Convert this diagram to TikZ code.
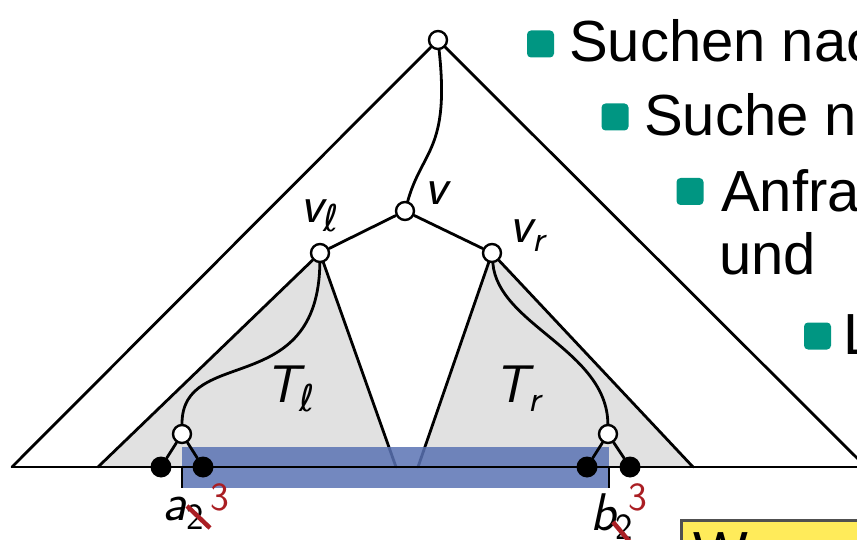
\documentclass[tikz,border=0pt]{standalone}
\usepackage{fontspec}
\newfontfamily\arialf{Liberation Sans}
\newfontfamily\dvs{DejaVu Sans}
\definecolor{kitgreen}{RGB}{0,150,130}
\definecolor{subgray}{RGB}{225,225,225}
\definecolor{rangeblue}{RGB}{90,115,180}
\definecolor{kitred}{RGB}{170,30,35}
\definecolor{noteyellow}{RGB}{255,235,90}
\definecolor{boxborder}{RGB}{80,80,80}
\newcommand{\lsub}[1]{\raisebox{-9pt}{\fontsize{37}{37}\selectfont #1}}
\pgfdeclarelayer{bglayer}
\pgfdeclarelayer{midlayer}
\pgfsetlayers{bglayer,midlayer,main}
\begin{document}
\begin{tikzpicture}[x=1pt,y=-1pt,
  edge/.style={line width=2.8pt, line cap=round},
  opennode/.style={circle, draw, line width=2.4pt, fill=white, minimum size=18pt, inner sep=0pt},
  dotnode/.style={circle, fill=black, minimum size=21pt, inner sep=0pt},
  lbl/.style={anchor=base west, inner sep=0pt, font=\fontsize{53}{53}\selectfont\sffamily\itshape},
  redlbl/.style={anchor=base west, inner sep=0pt, text=kitred, font=\fontsize{40}{40}\selectfont\sffamily},
  bulletbox/.style={fill=kitgreen, rounded corners=4pt, minimum size=27pt, inner sep=0pt},
  slidetext/.style={anchor=base west, inner sep=0pt, font=\fontsize{58}{62}\selectfont\arialf},
  strike/.style={draw=kitred, line width=4.5pt},
]
\useasboundingbox (0,0) rectangle (857,540);
\clip (0,0) rectangle (857,540);

% tree nodes
\node[opennode] (root) at (438,40) {};
\node[opennode] (v) at (405,211) {};
\node[opennode] (vl) at (320,253) {};
\node[opennode] (vr) at (492,253) {};
\node[opennode] (la) at (182,434) {};
\node[opennode] (ra) at (608,434) {};

\coordinate (bl) at (12,467);
\coordinate (br) at (866,467);
\coordinate (tl1) at (98,467);
\coordinate (tl2) at (396,467);
\coordinate (tr1) at (418,467);
\coordinate (tr2) at (693,467);
\coordinate (qa) at (182,467);
\coordinate (qa2) at (182,488);
\coordinate (qb) at (609,467);
\coordinate (qb2) at (609,488);

\begin{pgfonlayer}{bglayer}
  \fill[subgray] (vl.center) -- (tl1) -- (tl2) -- cycle;
  \fill[subgray] (vr.center) -- (tr1) -- (tr2) -- cycle;
  \draw[edge] (root) -- (bl);
  \draw[edge] (root) -- (br);
  \draw[edge] (vl) -- (tl1);
  \draw[edge] (vl) -- (tl2);
  \draw[edge] (vr) -- (tr1);
  \draw[edge] (vr) -- (tr2);
\end{pgfonlayer}
\begin{pgfonlayer}{midlayer}
  \fill[rangeblue, opacity=0.85] (182,447) rectangle (609,488);
\end{pgfonlayer}

\draw[edge] (bl) -- (br);
\draw[line width=2.6pt] (qa) -- (qa2);
\draw[line width=2.6pt] (qb) -- (qb2);

\draw[edge] (root) .. controls (450,150) and (422,150) .. (v);
\draw[edge] (v) -- (vl);
\draw[edge] (v) -- (vr);
\draw[edge] (vl) .. controls (318,400) and (182,345) .. (la);
\draw[edge] (vr) .. controls (498,325) and (607,350) .. (ra);

\node[dotnode] (la1) at (161,467) {};
\node[dotnode] (la2) at (203,467) {};
\node[dotnode] (ra1) at (587,467) {};
\node[dotnode] (ra2) at (630,467) {};
\draw[edge] (la) -- (la1);
\draw[edge] (la) -- (la2);
\draw[edge] (ra) -- (ra1);
\draw[edge] (ra) -- (ra2);

% labels
\node[lbl] (lv) at (424,205) {v};
\node[lbl] (lvl) at (300,223) {v\lsub{\dvs\itshape ℓ}};
\node[lbl] (lvr) at (509,243) {v\lsub{r}};
\node[lbl] (lTl) at (265,402) {T\lsub{\dvs\itshape ℓ}};
\node[lbl] (lTr) at (494,402) {T\lsub{r}};
\node[lbl] (lab) at (162,520) {a\lsub{\upshape 2}};
\node[lbl] (lbb) at (590,530) {b\lsub{\upshape 2}};
\node[redlbl] (a3) at (210,510) {3};
\node[redlbl] (b3) at (628,510) {3};
\draw[strike] (187,506) -- (210,528);
\draw[strike] (613,522) -- (634,547);

% note box
\draw[fill=noteyellow, draw=boxborder, line width=3pt] (681,520) rectangle (920,620);
\node[slidetext] (wtext) at (693,572) {W};

% slide text
\node[bulletbox] (b1) at (540.5,44) {};
\node[slidetext] (t1) at (569,62) {Suchen nach};
\node[bulletbox] (b2) at (615,117) {};
\node[slidetext] (t2) at (644,136) {Suche nach};
\node[bulletbox] (b3b) at (690,191.5) {};
\node[slidetext] (t3) at (721,212) {Anfrage};
\node[slidetext] (t3b) at (719,275) {und};
\node[bulletbox] (b4) at (817.5,336) {};
\node[slidetext] (t4) at (843,354) {Laufzeit};
\end{tikzpicture}
\end{document}
